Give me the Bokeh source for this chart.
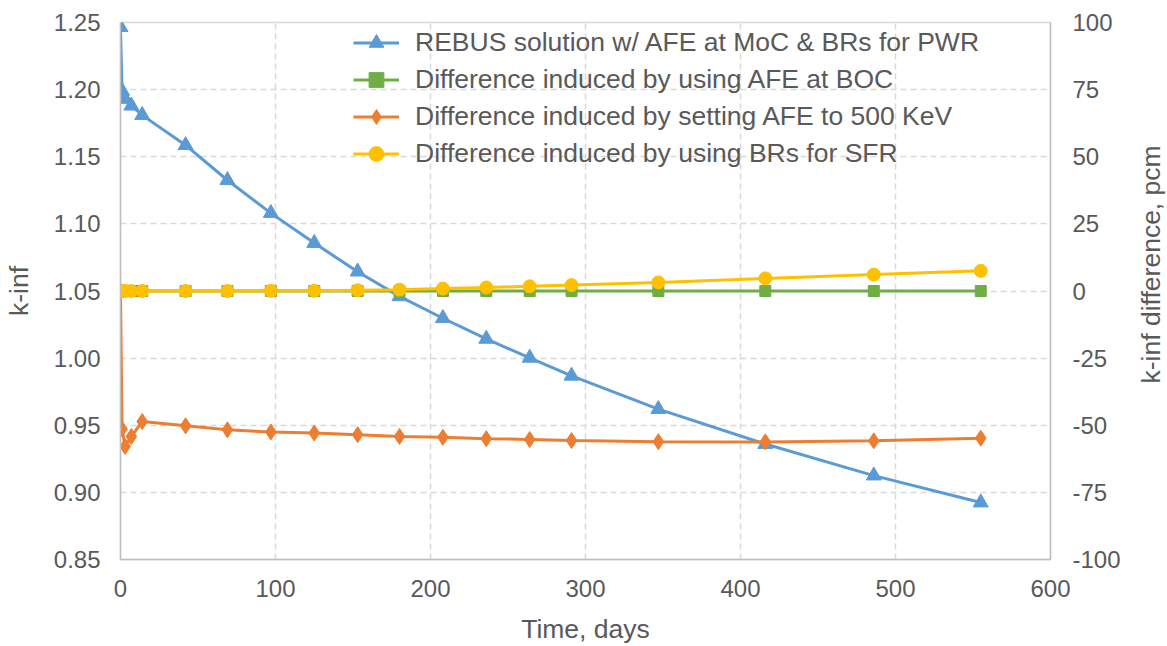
import math
from bokeh.plotting import figure
from bokeh.layouts import row
from bokeh.models import (Range1d, LinearAxis, FixedTicker, Legend, LegendItem,
                          NumeralTickFormatter)
from bokeh.core.properties import value
from bokeh.embed import file_html
from bokeh.resources import INLINE

# Burnup time steps (days)
time_days = [0, 1, 3, 7, 14, 42, 69, 97, 125, 153, 180, 208, 236, 264, 291, 347, 416, 486, 555]

# k-inf from REBUS (primary axis)
kinf_rebus = [1.2465, 1.199, 1.193, 1.188, 1.181, 1.1586, 1.1325, 1.108, 1.0857, 1.0644,
              1.046, 1.0297, 1.0143, 1.0002, 0.9868, 0.962, 0.936, 0.9125, 0.8924]

# k-inf differences in pcm (secondary axis)
diff_afe_boc = [0, 0, 0, 0, 0, 0, 0, 0, 0, 0, 0, 0, 0, 0, 0, 0, 0, 0, 0]
diff_afe_500kev = [0, -51.4, -57.9, -54.2, -48.6, -50.2, -51.7, -52.5, -52.9, -53.5,
                   -54.2, -54.5, -55.0, -55.3, -55.7, -56.1, -56.2, -55.8, -54.8]
diff_brs_sfr = [0, 0, 0, 0, 0, 0, 0, 0.05, 0.1, 0.3, 0.5, 0.9, 1.3, 1.75, 2.2, 3.2, 4.7, 6.1, 7.5]

series_labels = [
    "REBUS solution w/ AFE at MoC & BRs for PWR",
    "Difference induced by using AFE at BOC",
    "Difference induced by setting AFE to 500 KeV",
    "Difference induced by using BRs for SFR",
]

x_ticks = [0, 100, 200, 300, 400, 500, 600]
kinf_ticks = [0.85, 0.90, 0.95, 1.00, 1.05, 1.10, 1.15, 1.20, 1.25]
pcm_ticks = [-100, -75, -50, -25, 0, 25, 50, 75, 100]

FONT = "Liberation Sans"
TEXT = "#595959"
AXIS = "#BFBFBF"
GRID = "#D9D9D9"
BLUE, GREEN, ORANGE, YELLOW = "#5B9BD5", "#70AD47", "#ED7D31", "#FFC000"

p = figure(width=1130, height=646, output_backend="svg", toolbar_location=None,
           x_range=Range1d(0, 600), y_range=Range1d(0.85, 1.25),
           min_border_left=119, min_border_right=80, min_border_top=22,
           min_border_bottom=86)
p.extra_y_ranges = {"pcm": Range1d(-100, 100)}
p.outline_line_color = GRID
p.outline_line_width = 1.5
p.background_fill_color = "white"
p.border_fill_color = "white"

right_axis = LinearAxis(y_range_name="pcm")
p.add_layout(right_axis, "right")

p.xaxis.ticker = FixedTicker(ticks=x_ticks)
p.yaxis[0].ticker = FixedTicker(ticks=kinf_ticks)
p.yaxis[0].formatter = NumeralTickFormatter(format="0.00")
right_axis.ticker = FixedTicker(ticks=pcm_ticks)
right_axis.formatter = NumeralTickFormatter(format="0")

p.xaxis.axis_label = "Time, days"
p.yaxis[0].axis_label = "k-inf"

for ax in [p.xaxis[0], p.yaxis[0], right_axis]:
    ax.axis_line_color = AXIS
    ax.axis_line_width = 1.5
    ax.major_tick_out = 0
    ax.major_tick_in = 0
    ax.minor_tick_out = 0
    ax.minor_tick_in = 0
    ax.major_label_text_font = FONT
    ax.major_label_text_font_size = "24px"
    ax.major_label_text_color = TEXT
    ax.axis_label_text_font = FONT
    ax.axis_label_text_font_size = "26.5px"
    ax.axis_label_text_font_style = "normal"
    ax.axis_label_text_color = TEXT
    ax.major_label_standoff = 20
    ax.axis_label_standoff = 17
p.xaxis[0].major_label_standoff = 20
p.xaxis[0].axis_label_standoff = 14
right_axis.major_label_standoff = 22

p.xgrid.ticker = FixedTicker(ticks=x_ticks)
p.ygrid.ticker = FixedTicker(ticks=kinf_ticks)
for g in [p.xgrid[0], p.ygrid[0]]:
    g.grid_line_color = GRID
    g.grid_line_width = 1.5
    g.grid_line_dash = "6 4"

# Series: REBUS k-inf on the left axis, differences on the right axis
l1 = p.line(time_days, kinf_rebus, line_color=BLUE, line_width=3)
m1 = p.scatter(time_days, kinf_rebus, marker="triangle", size=15, color=BLUE)
l2 = p.line(time_days, diff_afe_boc, line_color=GREEN, line_width=3, y_range_name="pcm")
m2 = p.scatter(time_days, diff_afe_boc, marker="square", size=11, color=GREEN, y_range_name="pcm")
l3 = p.line(time_days, diff_afe_500kev, line_color=ORANGE, line_width=3, y_range_name="pcm")
m3 = p.scatter(time_days, diff_afe_500kev, marker="diamond", size=16, color=ORANGE, y_range_name="pcm")
l4 = p.line(time_days, diff_brs_sfr, line_color=YELLOW, line_width=3, y_range_name="pcm")
m4 = p.scatter(time_days, diff_brs_sfr, marker="circle", size=13, color=YELLOW, y_range_name="pcm")

legend = Legend(
    items=[LegendItem(label=series_labels[0], renderers=[l1, m1]),
           LegendItem(label=series_labels[1], renderers=[l2, m2]),
           LegendItem(label=series_labels[2], renderers=[l3, m3]),
           LegendItem(label=series_labels[3], renderers=[l4, m4])],
    location=(233, 387), glyph_width=46, glyph_height=37, label_height=37,
    label_standoff=16, spacing=0, padding=0, margin=0,
    border_line_color=None, background_fill_alpha=0,
    label_text_font=FONT, label_text_font_size="26.5px", label_text_color=TEXT,
)
p.add_layout(legend)

# Narrow strip to the right holding the secondary-axis title (reads bottom to top)
strip = figure(width=37, height=646, output_backend="svg", toolbar_location=None,
               x_range=Range1d(0, 37), y_range=Range1d(0, 646),
               x_axis_type=None, y_axis_type=None, min_border=0)
strip.outline_line_color = None
strip.grid.visible = False
strip.background_fill_color = "white"
strip.border_fill_color = "white"
strip.text(x=[20], y=[355], text=["k-inf difference, pcm"], angle=math.pi / 2,
           text_align="center", text_baseline="middle", text_font=value(FONT),
           text_font_size="26.5px", text_color=TEXT)

layout = row(p, strip, spacing=0)
open("out.html", "w").write(file_html(layout, INLINE))
